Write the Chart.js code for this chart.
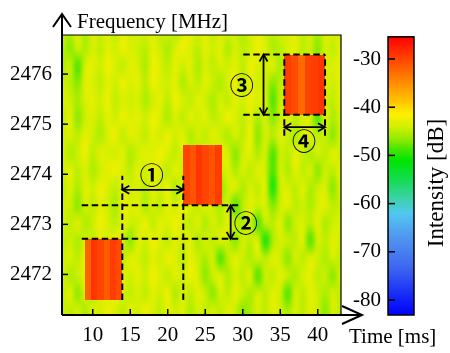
<!DOCTYPE html>
<html><head><meta charset="utf-8">
<script src="https://cdn.jsdelivr.net/npm/chart.js@4"></script>
<style>html,body{margin:0;padding:0;background:#fff}#wrap{width:450px;height:353px;position:relative}</style>
</head><body><div id="wrap"><canvas id="c" width="450" height="353"></canvas></div>
<script>
// ---- axes / ticks ----
const timeTicks = [10, 15, 20, 25, 30, 35, 40];
const freqTicks = [2472, 2473, 2474, 2475, 2476];
const dbTicks = [-30, -40, -50, -60, -70, -80];
const timeRange = [5.9, 43.1];
const freqRange = [2471.19, 2476.78];
const dbAxisRange = [-83.11, -25.02];
const dbBarTop = -25.4;

// ---- colour map (dB -> colour) ----
const cmapStops = [-83.1, -80, -73.5, -67, -62, -59, -55, -51, -49, -46.5, -44, -41.5, -39, -34, -25.4];
const cmapColors = ['#0000ff', '#1020f8', '#3c64f0', '#5096f0', '#50c8f0', '#3cd2aa', '#14dc50', '#00e600', '#3ce600', '#96eb00', '#d2f000', '#fff000', '#ffc800', '#ff7f00', '#ff0000'];

// ---- background noise (1 ms x 0.35 MHz cells, top row first) ----
const noiseT0 = 5.5, noiseDT = 1.0, noiseFTop = 2477.05, noiseDF = 0.35;
const noiseLevels = [-42.4, -43, -43.6, -44.2, -44.9, -45.7, -47, -48.8, -51.5, -54.5];
const noiseRows = [
  "34251324132314252031421352134231425213",
  "46252413023413520241315243025421436241",
  "53721302412502413152423140231532516321",
  "34612413021402315241352041326421347231",
  "23521304232531402413524130217341526341",
  "41632413021302524131430241526314237152",
  "32413520412413031524135240624135214362",
  "25304123153120241352412631527341352413",
  "31425310241302413526341524137251426341",
  "42513024132413052413263152418324153261",
  "33624135021524130241352741326314352143",
  "24153024133041202415241352734163241532",
  "43524130261302413152413624185234172413",
  "32415302412413024135274135241362413524",
  "25314024131302413026315241734135214362",
  "41625130242413052413624135241372413524",
  "34251302413024131524241365241352413624"
];

// ---- strong bursts (time in ms, frequency in MHz, level per column in dB) ----
const burstT0 = [8.97, 22.07, 35.54];
const burstT1 = [13.94, 27.19, 40.97];
const burstF0 = [2471.49, 2473.38, 2475.19];
const burstF1 = [2472.71, 2474.58, 2476.39];
const burstCols = [
  [-32, -29, -30, -31.5, -29.5, -30.5],
  [-30, -31, -29, -30, -31, -29.5],
  [-29.5, -30.5, -32.5, -30, -29.5, -29]
];

// ---- annotation marks (data coordinates) ----
const guideH = [[2473.38, 8.53, 29.41], [2472.71, 8.53, 29.41], [2476.39, 30.07, 40.97], [2475.19, 30.07, 40.97]];
const guideV = [[13.94, 2471.49, 2473.97], [22.07, 2471.49, 2473.97], [35.54, 2474.77, 2476.39], [40.97, 2474.77, 2476.39]];
const markArrows = [[13.94, 2473.69, 22.07, 2473.69], [28.39, 2472.71, 28.39, 2473.38], [32.77, 2475.19, 32.77, 2476.39], [35.54, 2474.94, 40.97, 2474.94]];
const markLabels = ['①', '②', '③', '④'];
const markLabelT = [17.86, 30.39, 29.86, 38.17];
const markLabelF = [2473.98, 2473.02, 2475.79, 2474.66];

const xTitle = 'Time [ms]';
const yTitle = 'Frequency [MHz]';
const cbTitle = 'Intensity [dB]';

function hexRgb(h) { return [parseInt(h.slice(1, 3), 16), parseInt(h.slice(3, 5), 16), parseInt(h.slice(5, 7), 16)]; }
const cmapRgb = cmapColors.map(hexRgb);
function colorFor(v) {
  if (v <= cmapStops[0]) return cmapRgb[0];
  const n = cmapStops.length;
  if (v >= cmapStops[n - 1]) return cmapRgb[n - 1];
  for (let i = 0; i < n - 1; i++) {
    if (v >= cmapStops[i] && v <= cmapStops[i + 1]) {
      const t = (v - cmapStops[i]) / (cmapStops[i + 1] - cmapStops[i]);
      const a = cmapRgb[i], b = cmapRgb[i + 1];
      return [0, 1, 2].map(k => Math.round(a[k] + (b[k] - a[k]) * t));
    }
  }
  return cmapRgb[n - 1];
}
const rgbStr = c => `rgb(${c[0]},${c[1]},${c[2]})`;

const SERIF = '"Liberation Serif", "DejaVu Serif", serif';

function arrowHead(ctx, tx, ty, dx, dy, len, half) {
  const bx = tx - dx * len, by = ty - dy * len;
  const px = -dy, py = dx;
  ctx.beginPath();
  ctx.moveTo(bx + px * half, by + py * half);
  ctx.lineTo(tx, ty);
  ctx.lineTo(bx - px * half, by - py * half);
  ctx.stroke();
}

const heatPlugin = {
  id: 'heat',
  beforeDatasetsDraw(chart) {
    const { ctx, chartArea: a, scales: { x, y } } = chart;
    const rows = noiseRows.length, cols = noiseRows[0].length;
    const off = document.createElement('canvas');
    off.width = cols; off.height = rows;
    const octx = off.getContext('2d');
    const img = octx.createImageData(cols, rows);
    for (let r = 0; r < rows; r++) {
      for (let c = 0; c < cols; c++) {
        const ch = noiseRows[r].charAt(c) || '3';
        const rgb = colorFor(noiseLevels[+ch]);
        const o = (r * cols + c) * 4;
        img.data[o] = rgb[0]; img.data[o + 1] = rgb[1]; img.data[o + 2] = rgb[2]; img.data[o + 3] = 255;
      }
    }
    octx.putImageData(img, 0, 0);
    ctx.save();
    ctx.beginPath(); ctx.rect(a.left, a.top, a.width, a.height); ctx.clip();
    ctx.imageSmoothingEnabled = true; ctx.imageSmoothingQuality = 'high';
    const x0 = x.getPixelForValue(noiseT0), x1 = x.getPixelForValue(noiseT0 + cols * noiseDT);
    const y0 = y.getPixelForValue(noiseFTop), y1 = y.getPixelForValue(noiseFTop - rows * noiseDF);
    ctx.drawImage(off, x0, y0, x1 - x0, y1 - y0);
    for (let i = 0; i < burstT0.length; i++) {
      const n = burstCols[i].length;
      const w = (burstT1[i] - burstT0[i]) / n;
      const top = Math.round(y.getPixelForValue(burstF1[i]));
      const bot = Math.round(y.getPixelForValue(burstF0[i]));
      for (let k = 0; k < n; k++) {
        const l = Math.round(x.getPixelForValue(burstT0[i] + k * w));
        const r = Math.round(x.getPixelForValue(burstT0[i] + (k + 1) * w));
        ctx.fillStyle = rgbStr(colorFor(burstCols[i][k]));
        ctx.fillRect(l, top, r - l, bot - top);
      }
    }
    ctx.restore();
  },
  afterDraw(chart) {
    const { ctx, chartArea: a, scales: { x, y, cb } } = chart;
    ctx.save();
    ctx.strokeStyle = '#000'; ctx.fillStyle = '#000';
    ctx.lineWidth = 2; ctx.setLineDash([6.5, 3.5]);
    guideH.forEach(g => {
      const py = y.getPixelForValue(g[0]);
      ctx.beginPath(); ctx.moveTo(x.getPixelForValue(g[1]), py); ctx.lineTo(x.getPixelForValue(g[2]), py); ctx.stroke();
    });
    guideV.forEach(g => {
      const px = x.getPixelForValue(g[0]);
      ctx.beginPath(); ctx.moveTo(px, y.getPixelForValue(g[1])); ctx.lineTo(px, y.getPixelForValue(g[2])); ctx.stroke();
    });
    ctx.setLineDash([]);
    ctx.lineWidth = 1.8;
    markArrows.forEach(m => {
      const ax = x.getPixelForValue(m[0]), ay = y.getPixelForValue(m[1]);
      const bx = x.getPixelForValue(m[2]), by = y.getPixelForValue(m[3]);
      ctx.beginPath(); ctx.moveTo(ax, ay); ctx.lineTo(bx, by); ctx.stroke();
      const L = Math.hypot(bx - ax, by - ay), ux = (bx - ax) / L, uy = (by - ay) / L;
      arrowHead(ctx, bx, by, ux, uy, 7, 4);
      arrowHead(ctx, ax, ay, -ux, -uy, 7, 4);
    });
    ctx.font = 'bold 24px "Noto Sans CJK JP", "DejaVu Sans", sans-serif';
    ctx.textAlign = 'center'; ctx.textBaseline = 'middle';
    markLabels.forEach((t, i) => ctx.fillText(t, x.getPixelForValue(markLabelT[i]), y.getPixelForValue(markLabelF[i])));

    ctx.lineWidth = 1.2;
    ctx.beginPath(); ctx.moveTo(a.left, a.top); ctx.lineTo(a.right, a.top); ctx.lineTo(a.right, a.bottom); ctx.stroke();
    ctx.lineWidth = 2;
    ctx.beginPath(); ctx.moveTo(a.left, a.bottom); ctx.lineTo(a.left, a.top - 21); ctx.stroke();
    ctx.beginPath(); ctx.moveTo(a.left, a.bottom); ctx.lineTo(a.right + 21, a.bottom); ctx.stroke();
    arrowHead(ctx, a.left, a.top - 21, 0, -1, 13, 9);
    arrowHead(ctx, a.right + 21, a.bottom, 1, 0, 20, 9);
    ctx.lineWidth = 1.5;
    freqTicks.forEach(v => { const py = y.getPixelForValue(v); ctx.beginPath(); ctx.moveTo(a.left, py); ctx.lineTo(a.left + 6, py); ctx.stroke(); });
    timeTicks.forEach(v => { const px = x.getPixelForValue(v); ctx.beginPath(); ctx.moveTo(px, a.bottom); ctx.lineTo(px, a.bottom - 6); ctx.stroke(); });
    ctx.font = '21px ' + SERIF;
    ctx.textAlign = 'left'; ctx.textBaseline = 'alphabetic';
    ctx.fillText(yTitle, a.left + 15, 28);
    ctx.fillText(xTitle, a.right + 8, 343);

    const cbL = a.right + 47, cbR = a.right + 73;
    const cbTop = cb.getPixelForValue(dbBarTop), cbBot = cb.getPixelForValue(dbAxisRange[0]);
    const grad = ctx.createLinearGradient(0, cbBot, 0, cbTop);
    cmapStops.forEach((s, i) => {
      const t = (s - cmapStops[0]) / (cmapStops[cmapStops.length - 1] - cmapStops[0]);
      grad.addColorStop(Math.min(1, Math.max(0, t)), cmapColors[i]);
    });
    ctx.fillStyle = grad; ctx.fillRect(cbL, cbTop, cbR - cbL, cbBot - cbTop);
    ctx.lineWidth = 1.5; ctx.strokeStyle = '#000';
    ctx.strokeRect(cbL, cbTop, cbR - cbL, cbBot - cbTop);
    ctx.fillStyle = '#000';
    ctx.font = '21px ' + SERIF;
    ctx.textAlign = 'right'; ctx.textBaseline = 'middle';
    dbTicks.forEach(v => {
      const py = cb.getPixelForValue(v);
      ctx.beginPath(); ctx.moveTo(cbL, py); ctx.lineTo(cbL + 7, py); ctx.stroke();
      ctx.fillText(String(v), cbL - 7, py);
    });
    ctx.save();
    ctx.translate(a.right + 96, 183);
    ctx.rotate(-Math.PI / 2);
    ctx.font = '23px ' + SERIF;
    ctx.textAlign = 'center'; ctx.textBaseline = 'middle';
    ctx.fillText(cbTitle, 0, 0);
    ctx.restore();
    ctx.restore();
  }
};

const tickFont = { family: SERIF, size: 21 };
new Chart(document.getElementById('c'), {
  type: 'scatter',
  data: { datasets: [] },
  options: {
    responsive: false, animation: false, devicePixelRatio: 1,
    layout: { padding: { top: 35, right: 109, bottom: 0, left: 0 } },
    plugins: { legend: { display: false }, tooltip: { enabled: false } },
    scales: {
      x: {
        type: 'linear', position: 'bottom', min: timeRange[0], max: timeRange[1],
        grid: { display: false, drawTicks: false }, border: { display: false },
        ticks: { color: '#000', font: tickFont, padding: 8, maxRotation: 0, callback: v => String(v) },
        afterBuildTicks: s => { s.ticks = timeTicks.map(v => ({ value: v })); },
        afterFit: s => { s.height = 38; }
      },
      y: {
        type: 'linear', position: 'left', min: freqRange[0], max: freqRange[1],
        grid: { display: false, drawTicks: false }, border: { display: false },
        ticks: { color: '#000', font: tickFont, padding: 10, callback: v => String(v) },
        afterBuildTicks: s => { s.ticks = freqTicks.map(v => ({ value: v })); },
        afterFit: s => { s.width = 62; }
      },
      cb: {
        type: 'linear', position: 'right', display: false, min: dbAxisRange[0], max: dbAxisRange[1]
      }
    }
  },
  plugins: [heatPlugin]
});
</script>
</body></html>
